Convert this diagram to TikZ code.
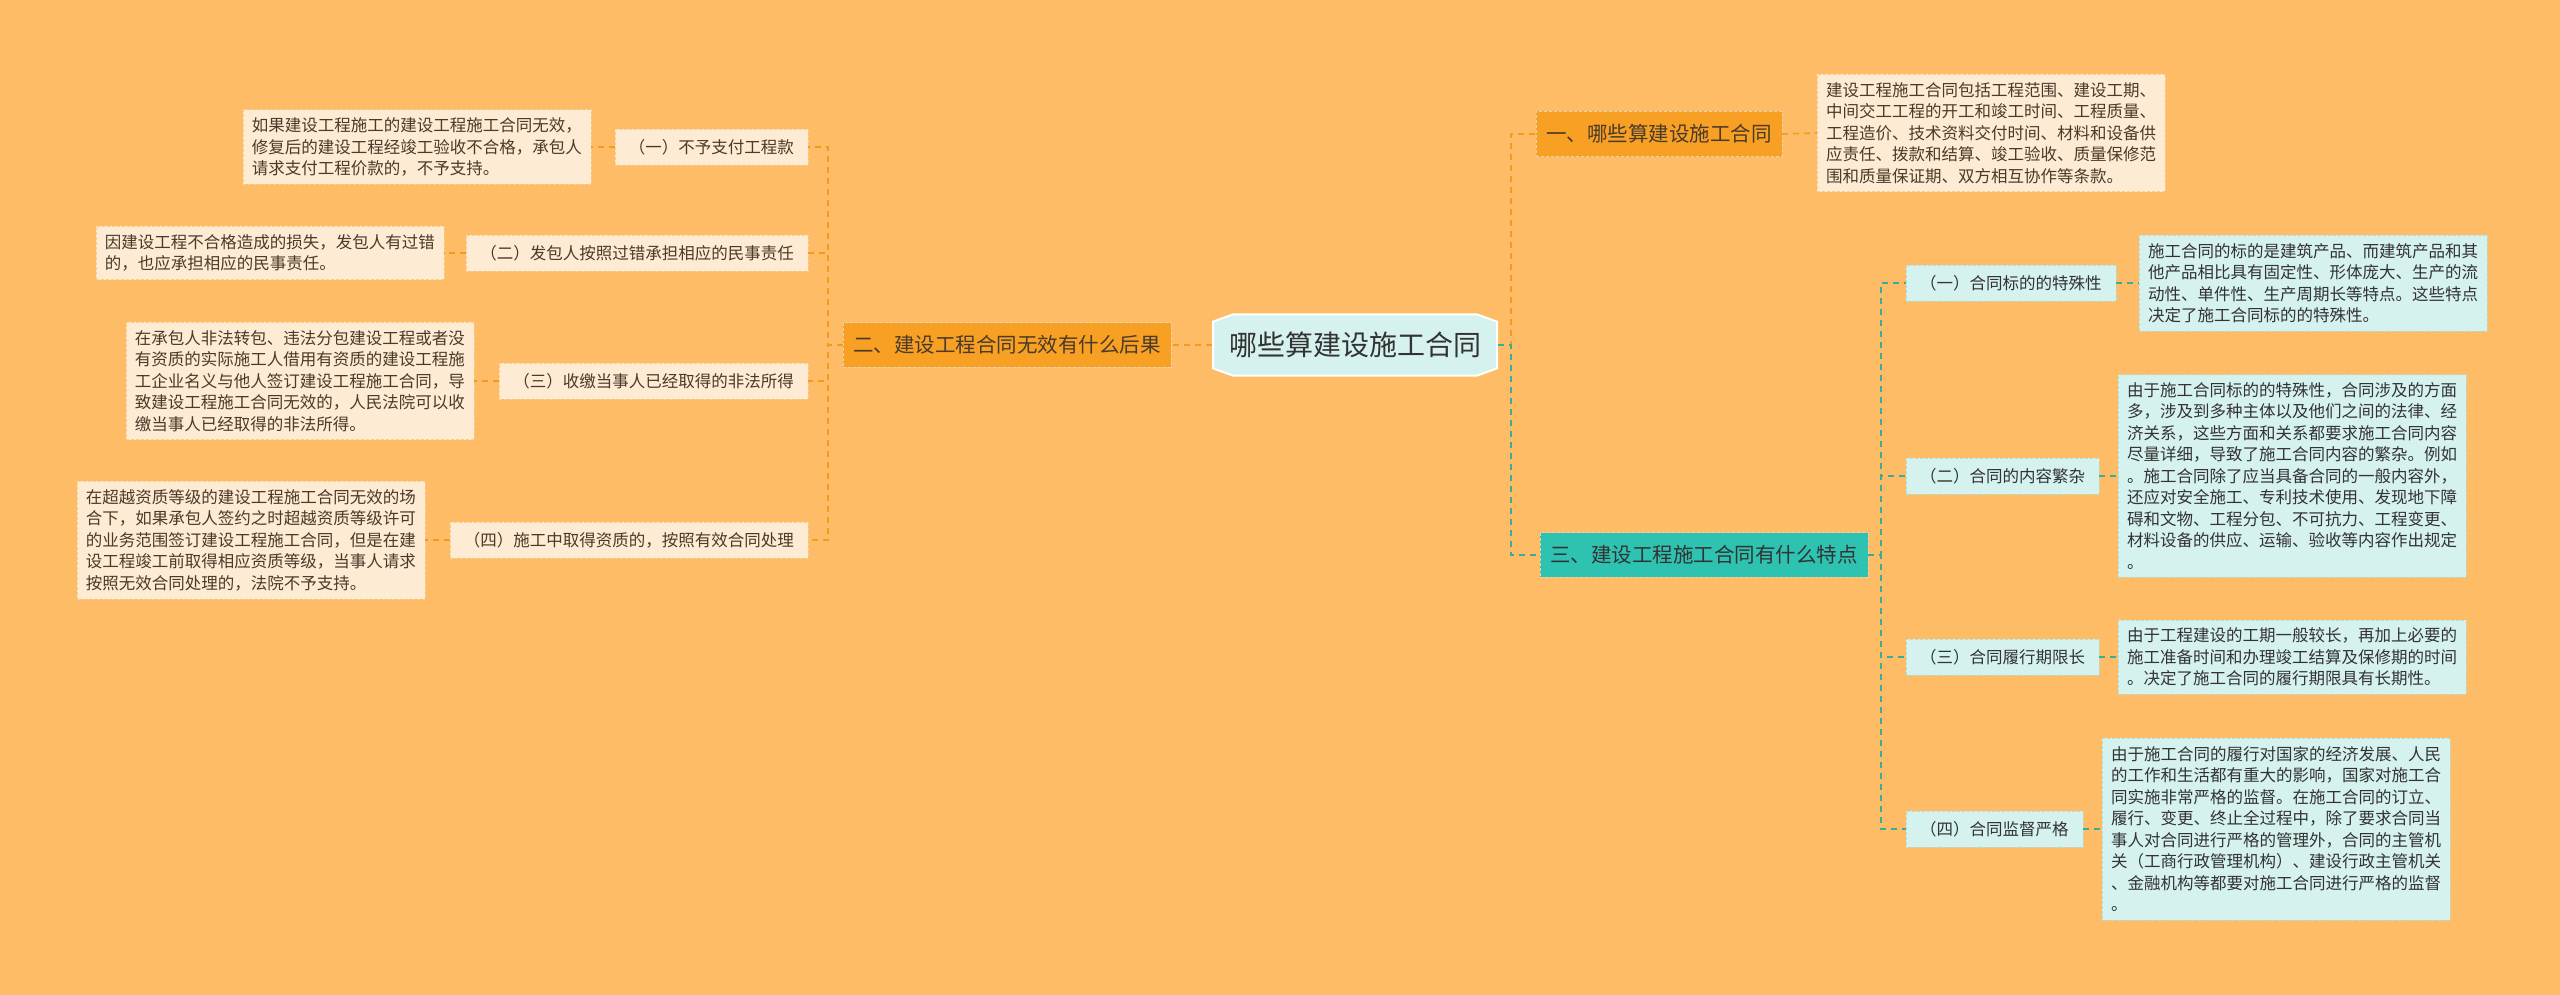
\documentclass[tikz,border=0pt]{standalone}
\usepackage{fontspec}
\setmainfont{Noto Sans CJK SC}
\usetikzlibrary{shapes.geometric,shapes.misc}
\definecolor{bg}{HTML}{FDBC65}
\definecolor{org}{HTML}{F7A023}
\definecolor{orgline}{HTML}{F29B1F}
\definecolor{cream}{HTML}{FDEBD3}
\definecolor{teal}{HTML}{2EC2B0}
\definecolor{tealline}{HTML}{38AE98}
\definecolor{lcyan}{HTML}{D5F2EF}
\definecolor{txt}{HTML}{4A3A2A}
\tikzset{
 x=1pt,y=1pt,
 leaf/.style={fill=cream,draw=orgline!50,dash pattern=on 3pt off 2pt,align=left,inner xsep=9pt,inner ysep=8pt,font=\fontsize{16.5}{21.5}\selectfont,text=txt},
 lab/.style={fill=cream,draw=orgline!50,dash pattern=on 3pt off 2pt,inner xsep=14pt,inner ysep=10pt,font=\fontsize{16.5}{20}\selectfont,text=txt},
 tleaf/.style={leaf,fill=lcyan,draw=tealline!40,text=black!80},
 tlab/.style={lab,fill=lcyan,draw=tealline!40,text=black!80},
 branch/.style={fill=org,draw=orgline!70!black!30,dash pattern=on 3pt off 2pt,inner xsep=10pt,inner ysep=13pt,font=\fontsize{20.5}{24}\selectfont,text=txt},
 ol/.style={draw=orgline,dash pattern=on 6pt off 5pt,line width=1.6pt},
 tl/.style={draw=tealline,dash pattern=on 6pt off 5pt,line width=1.6pt},
}
\begin{document}
\begin{tikzpicture}
\fill[bg] (0,0) rectangle (2560,-995);
\useasboundingbox (0,0) rectangle (2560,-995);
% center
\node[chamfered rectangle,chamfered rectangle xsep=10pt,chamfered rectangle angle=70,fill=lcyan,draw=white,line width=2pt,inner xsep=6pt,inner ysep=14pt,font=\fontsize{28}{32}\selectfont,text=black!80] (c) at (1355,-345) {哪些算建设施工合同};
% branches
\node[branch] (b2) at (1007,-345) {二、建设工程合同无效有什么后果};
\node[branch] (b1) at (1659,-134) {一、哪些算建设施工合同};
\node[branch,fill=teal,text=black!80] (b3) at (1704,-555) {三、建设工程施工合同有什么特点};
% right top leaf
\node[leaf,anchor=west] (t1) at (1817,-133) {建设工程施工合同包括工程范围、建设工期、\\中间交工工程的开工和竣工时间、工程质量、\\工程造价、技术资料交付时间、材料和设备供\\应责任、拨款和结算、竣工验收、质量保修范\\围和质量保证期、双方相互协作等条款。};
% teal labels
\node[tlab,anchor=west] (s1) at (1906,-283) {（一）合同标的的特殊性};
\node[tlab,anchor=west] (s2) at (1906,-476) {（二）合同的内容繁杂};
\node[tlab,anchor=west] (s3) at (1906,-657) {（三）合同履行期限长};
\node[tlab,anchor=west] (s4) at (1906,-829) {（四）合同监督严格};
\node[tleaf,anchor=west] (r1) at (2139,-283) {施工合同的标的是建筑产品、而建筑产品和其\\他产品相比具有固定性、形体庞大、生产的流\\动性、单件性、生产周期长等特点。这些特点\\决定了施工合同标的的特殊性。};
\node[tleaf,anchor=west] (r2) at (2118,-476) {由于施工合同标的的特殊性，合同涉及的方面\\多，涉及到多种主体以及他们之间的法律、经\\济关系，这些方面和关系都要求施工合同内容\\尽量详细，导致了施工合同内容的繁杂。例如\\。施工合同除了应当具备合同的一般内容外，\\还应对安全施工、专利技术使用、发现地下障\\碍和文物、工程分包、不可抗力、工程变更、\\材料设备的供应、运输、验收等内容作出规定\\。};
\node[tleaf,anchor=west] (r3) at (2118,-657) {由于工程建设的工期一般较长，再加上必要的\\施工准备时间和办理竣工结算及保修期的时间\\。决定了施工合同的履行期限具有长期性。};
\node[tleaf,anchor=west] (r4) at (2102,-829) {由于施工合同的履行对国家的经济发展、人民\\的工作和生活都有重大的影响，国家对施工合\\同实施非常严格的监督。在施工合同的订立、\\履行、变更、终止全过程中，除了要求合同当\\事人对合同进行严格的管理外，合同的主管机\\关（工商行政管理机构）、建设行政主管机关\\、金融机构等都要对施工合同进行严格的监督\\。};
% left labels
\node[lab,anchor=east] (l1) at (808,-147) {（一）不予支付工程款};
\node[lab,anchor=east] (l2) at (808,-253) {（二）发包人按照过错承担相应的民事责任};
\node[lab,anchor=east] (l3) at (808,-381) {（三）收缴当事人已经取得的非法所得};
\node[lab,anchor=east] (l4) at (808,-540) {（四）施工中取得资质的，按照有效合同处理};
\node[leaf,anchor=east] (p1) at (591,-147) {如果建设工程施工的建设工程施工合同无效，\\修复后的建设工程经竣工验收不合格，承包人\\请求支付工程价款的，不予支持。};
\node[leaf,anchor=east] (p2) at (444,-253) {因建设工程不合格造成的损失，发包人有过错\\的，也应承担相应的民事责任。};
\node[leaf,anchor=east] (p3) at (474,-381) {在承包人非法转包、违法分包建设工程或者没\\有资质的实际施工人借用有资质的建设工程施\\工企业名义与他人签订建设工程施工合同，导\\致建设工程施工合同无效的，人民法院可以收\\缴当事人已经取得的非法所得。};
\node[leaf,anchor=east] (p4) at (425,-540) {在超越资质等级的建设工程施工合同无效的场\\合下，如果承包人签约之时超越资质等级许可\\的业务范围签订建设工程施工合同，但是在建\\设工程竣工前取得相应资质等级，当事人请求\\按照无效合同处理的，法院不予支持。};
% connectors
\path[ol] (c.west) -- (b2.east);
\path[ol] (c.east) -- ++(13,0) |- (b1.west);
\path[tl] (c.east) -- ++(13,0) |- (b3.west);
\path[ol] (b1.east) -- (t1.west);
\foreach \i in {1,2,3,4}{
 \path[tl] (b3.east) -- ++(13,0) |- (s\i.west);
 \path[tl] (s\i.east) -- (r\i.west);
 \path[ol] (b2.west) -- ++(-15,0) |- (l\i.east);
 \path[ol] (l\i.west) -- (p\i.east);
}
\end{tikzpicture}
\end{document}
